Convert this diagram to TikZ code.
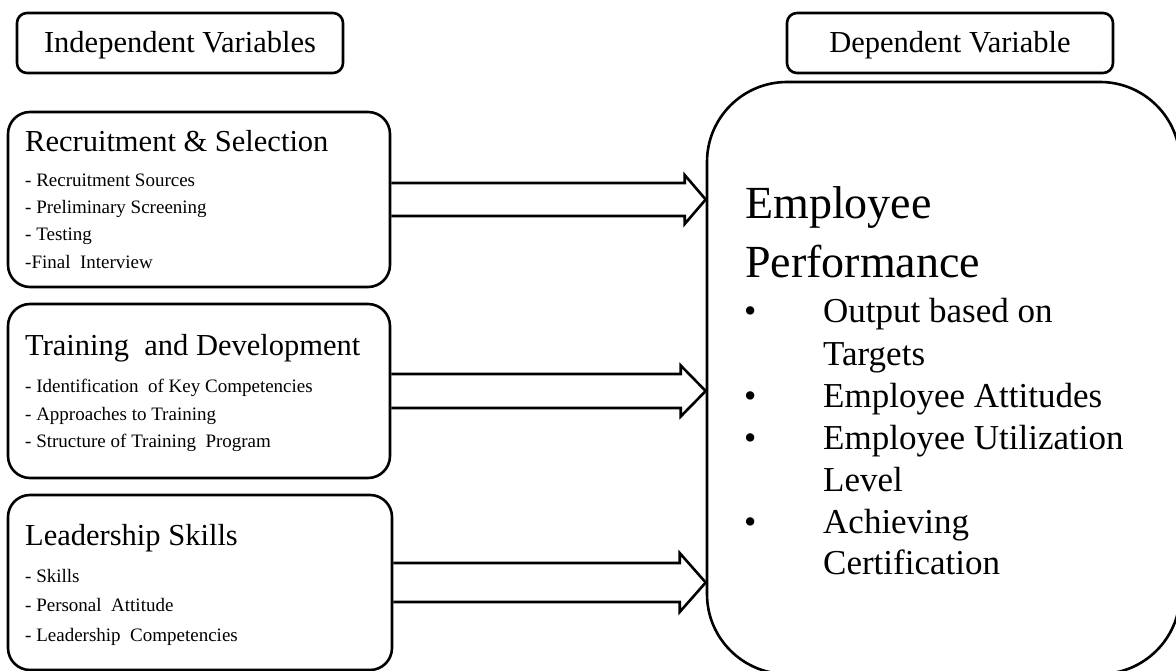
\documentclass[tikz,border=0pt]{standalone}
\usepackage{fontspec}
\setmainfont{Liberation Serif}
\usetikzlibrary{calc}

% Hollow block arrow from the east side of box #1 to the west side of box #2:
% #3 = half width of the shaft, #4 = half width of the head, #5 = head length
\newcommand{\blockarrow}[5]{%
  \coordinate (#1-tip) at (#2.west |- #1.east);
  \draw[arrowline] ($(#1.east)+(0,-#3)$) -- ($(#1-tip)+(-#5,-#3)$)
    -- ($(#1-tip)+(-#5,-#4)$) -- (#1-tip) -- ($(#1-tip)+(-#5,#4)$)
    -- ($(#1-tip)+(-#5,#3)$) -- ($(#1.east)+(0,#3)$);}

\begin{document}
\begin{tikzpicture}[x=1pt,y=-1pt,
  box/.style={draw, line width=2.6pt, inner sep=0pt, rectangle},
  headbox/.style={box, rounded corners=10pt, minimum width=326pt, minimum height=60pt},
  varbox/.style={box, rounded corners=22pt, minimum width=382pt, minimum height=175pt},
  bigbox/.style={box, rounded corners=80pt, minimum width=473pt, minimum height=592pt},
  arrowline/.style={line width=2.6pt, line join=miter},
  lbl/.style={anchor=base west, inner sep=0pt},
  headtxt/.style={anchor=base, inner sep=0pt, font=\fontsize{30.5}{36}\selectfont},
  titletxt/.style={lbl, font=\fontsize{30.5}{36}\selectfont},
  subtxt/.style={lbl, font=\fontsize{19}{23}\selectfont},
  perftxt/.style={lbl, font=\fontsize{46}{52}\selectfont},
  itemtxt/.style={lbl, font=\fontsize{35}{37}\selectfont}]

\useasboundingbox (0,0) rectangle (1176,671);

% column headings
\node[headbox] (indep) at (180,43) {};
\node[headtxt] (indepT) at (180,53) {Independent Variables};
\node[headbox] (dep) at (950,43) {};
\node[headtxt] (depT) at (950,53) {Dependent Variable};

% independent variable boxes
\node[varbox] (rs) at (199,199.5) {};
\node[titletxt] (rsT) at (25,152) {Recruitment \& Selection};
\node[subtxt] (rs1) at (25,187) {- Recruitment Sources};
\node[subtxt] (rs2) at (25,214) {- Preliminary Screening};
\node[subtxt] (rs3) at (25,241) {- Testing};
\node[subtxt] (rs4) at (25,269) {-Final\ \ Interview};

\node[varbox, minimum height=174pt] (td) at (199,391) {};
\node[titletxt] (tdT) at (25,355) {Training\ \ and Development};
\node[subtxt] (td1) at (25,392) {- Identification\ \ of Key Competencies};
\node[subtxt] (td2) at (25,420) {- Approaches to Training};
\node[subtxt] (td3) at (25,447) {- Structure of Training\ \ Program};

\node[varbox, minimum width=384pt] (ls) at (200,582.5) {};
\node[titletxt] (lsT) at (25,545) {Leadership Skills};
\node[subtxt] (ls1) at (25,582) {- Skills};
\node[subtxt] (ls2) at (25,611) {- Personal\ \ Attitude};
\node[subtxt] (ls3) at (25,641) {- Leadership\ \ Competencies};

% dependent variable box
\node[bigbox] (perf) at (943.5,378) {};
\node[perftxt] (perfT1) at (745,219) {Employee};
\node[perftxt] (perfT2) at (745,278) {Performance};
\node[itemtxt] (b1) at (744,323) {•};
\node[itemtxt] (p1) at (823,323) {Output based on};
\node[itemtxt] (p1b) at (823,365) {Targets};
\node[itemtxt] (b2) at (744,407) {•};
\node[itemtxt] (p2) at (823,407) {Employee Attitudes};
\node[itemtxt] (b3) at (744,449) {•};
\node[itemtxt] (p3) at (823,449) {Employee Utilization};
\node[itemtxt] (p3b) at (823,491) {Level};
\node[itemtxt] (b4) at (744,533) {•};
\node[itemtxt] (p4) at (823,533) {Achieving};
\node[itemtxt] (p4b) at (823,574) {Certification};

% arrows into the dependent variable
\blockarrow{rs}{perf}{16.5}{24.5}{21}
\blockarrow{td}{perf}{17}{25.5}{25}
\blockarrow{ls}{perf}{19.5}{29.5}{26}

\end{tikzpicture}
\end{document}
